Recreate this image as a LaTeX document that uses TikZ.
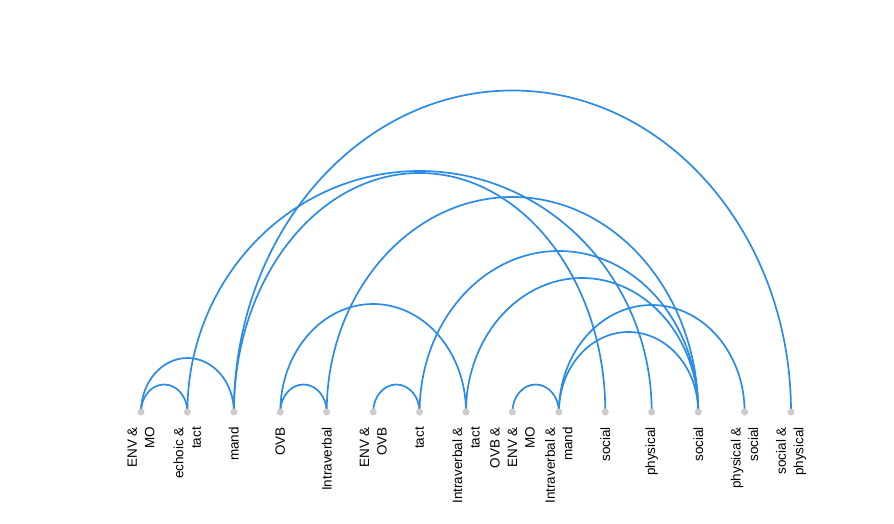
\documentclass[tikz,border=0pt]{standalone}
\usepackage{fontspec}
\setmainfont{Liberation Sans}
\usetikzlibrary{backgrounds,calc}
\definecolor{arcblue}{RGB}{42,140,230}
\definecolor{dotgray}{RGB}{204,204,204}
\begin{document}
\begin{tikzpicture}[x=1pt,y=1pt,
  dot/.style={circle,fill=dotgray,inner sep=0pt,minimum size=7pt},
  lab/.style={rotate=90,anchor=east,align=right,inner sep=0pt,font=\fontsize{13.5}{17.5}\selectfont},
  conn/.style={draw=arcblue,line width=1.7pt},
  hell/.style={to path={let \p1=(\tikztostart),\p2=(\tikztotarget),\n1={(\x2-\x1)/2} in
     .. controls +(0,{0.5523*#1}) and +({-0.5523*\n1},0) .. ++(\n1,#1)
     .. controls +({0.5523*\n1},0) and +(0,{0.5523*#1}) .. (\tikztotarget)}}
]
\useasboundingbox (0,0) rectangle (894,523);

% nodes (dots)
\node[dot] (n0)  at (141.0,111) {};
\node[dot] (n1)  at (187.4,111) {};
\node[dot] (n2)  at (233.9,111) {};
\node[dot] (n3)  at (280.3,111) {};
\node[dot] (n4)  at (326.7,111) {};
\node[dot] (n5)  at (373.2,111) {};
\node[dot] (n6)  at (419.6,111) {};
\node[dot] (n7)  at (466.0,111) {};
\node[dot] (n8)  at (512.4,111) {};
\node[dot] (n9)  at (558.9,111) {};
\node[dot] (n10) at (605.3,111) {};
\node[dot] (n11) at (651.7,111) {};
\node[dot] (n12) at (698.2,111) {};
\node[dot] (n13) at (744.6,111) {};
\node[dot] (n14) at (791.0,111) {};

% labels
\node[lab] (l0)  at (141.0,96) {ENV \&\\MO};
\node[lab] (l1)  at (187.4,96) {echoic \&\\tact};
\node[lab] (l2)  at (233.9,96) {mand};
\node[lab] (l3)  at (280.3,96) {OVB};
\node[lab] (l4)  at (326.7,96) {Intraverbal};
\node[lab] (l5)  at (373.2,96) {ENV \&\\OVB};
\node[lab] (l6)  at (419.6,96) {tact};
\node[lab] (l7)  at (466.0,96) {Intraverbal \&\\tact};
\node[lab] (l8)  at (512.4,96) {OVB \&\\ENV \&\\MO};
\node[lab] (l9)  at (558.9,96) {Intraverbal \&\\mand};
\node[lab] (l10) at (605.3,96) {social};
\node[lab] (l11) at (651.7,96) {physical};
\node[lab] (l12) at (698.2,96) {social};
\node[lab] (l13) at (744.6,96) {physical \&\\social};
\node[lab] (l14) at (791.0,96) {social \&\\physical};

% connectors
\begin{pgfonlayer}{background}
\fill[white] (0,0) rectangle (894,523);
\draw[conn] (n0.center) to[hell=27.5] (n1.center);
\draw[conn] (n0.center) to[hell=54] (n2.center);
\draw[conn] (n2.center) to[hell=321.5] (n14.center);
\draw[conn] (n1.center) to[hell=241] (n11.center);
\draw[conn] (n2.center) to[hell=239] (n10.center);
\draw[conn] (n3.center) to[hell=27.5] (n4.center);
\draw[conn] (n3.center) to[hell=108] (n7.center);
\draw[conn] (n4.center) to[hell=215] (n12.center);
\draw[conn] (n5.center) to[hell=27.5] (n6.center);
\draw[conn] (n6.center) to[hell=161] (n12.center);
\draw[conn] (n7.center) to[hell=134] (n12.center);
\draw[conn] (n8.center) to[hell=27.5] (n9.center);
\draw[conn] (n9.center) to[hell=80] (n12.center);
\draw[conn] (n9.center) to[hell=107] (n13.center);
\end{pgfonlayer}
\end{tikzpicture}
\end{document}
